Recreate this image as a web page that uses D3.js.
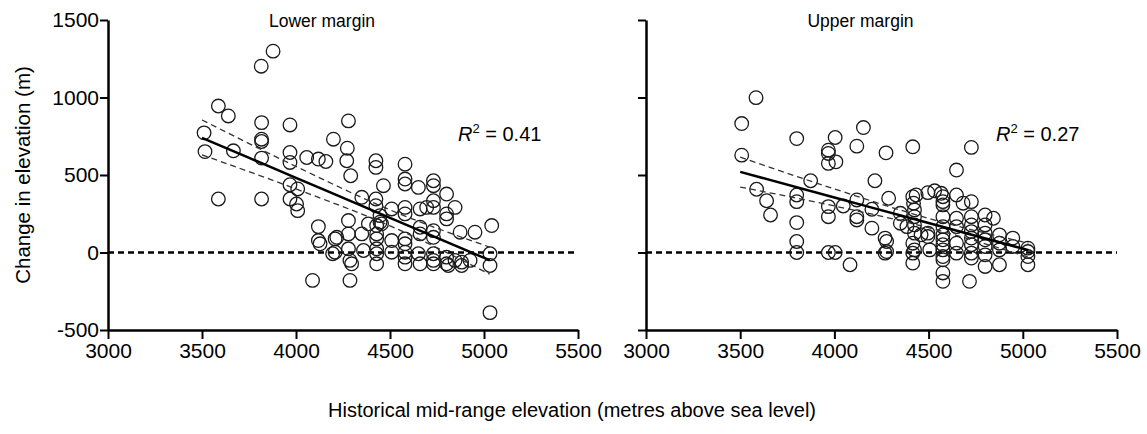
<!DOCTYPE html>
<html>
<head>
<meta charset="utf-8">
<script src="https://cdn.jsdelivr.net/npm/d3@7"></script>
<style>
  body { margin: 0; background: #fff; }
  svg { font-family: "Liberation Sans", Arial, sans-serif; }
  .axis path, .axis line { stroke: #000; }
  .axis text { font-size: 21px; fill: #000; }
</style>
</head>
<body>
<svg id="viz"></svg>
<script>
var width = 1147;
var height = 434;

// lower margin: [historical elevation, change]
var lowerPoints = [
  [3511,772],[3516,651],[3587,945],[3640,881],[3587,345],[3667,656],
  [3815,1202],[3878,1299],[3817,838],[3817,731],[3817,716],[3817,609],[3817,345],
  [3968,823],[3968,645],[3968,581],[3968,437],[4009,410],[3968,345],[4003,313],[4009,270],
  [4057,613],[4119,603],[4159,587],[4199,731],
  [4119,167],[4119,77],[4128,56],[4208,88],[4195,-8],[4088,-180],
  [4279,849],[4273,673],[4270,592],[4291,495],[4279,206],[4217,98],[4279,120],[4279,24],[4208,2],[4296,-73],[4287,-180],[4287,-51],
  [4350,356],[4350,120],[4359,13],[4385,185],
  [4425,592],[4425,549],[4425,345],[4425,302],[4447,238],[4447,195],[4429,174],[4429,120],[4429,88],[4429,24],[4429,-8],[4429,-73],[4455,185],[4465,431],
  [4509,281],[4509,77],[4509,2],
  [4580,570],[4580,474],[4580,442],[4580,291],[4580,249],[4580,88],[4580,56],[4580,2],[4580,-30],[4580,-73],
  [4651,420],[4660,281],[4695,291],[4660,163],[4660,120],[4651,-8],[4660,-73],
  [4731,463],[4731,431],[4731,334],[4731,291],[4731,141],[4731,98],[4731,-8],[4731,-51],[4731,-73],
  [4801,377],[4801,249],[4801,217],[4846,291],[4801,-30],[4801,-73],[4810,-84],[4846,-51],[4881,-62],[4881,-84],
  [4873,131],[4952,131],[4926,-51],
  [5041,174],[5032,-8],[5032,-84],[5032,-388]
];

// upper margin
var upperPoints = [
  [3508,832],[3584,999],[3508,628],[3587,408],[3640,334],[3661,242],
  [3800,735],[3800,371],[3800,328],[3800,193],[3800,71],[3800,0],
  [3874,463],
  [3968,660],[3968,639],[3968,575],[4008,585],[4004,742],[3968,296],[3968,231],[4047,300],[3968,0],[4004,0],
  [4083,-79],
  [4119,686],[4154,806],[4119,339],[4119,231],[4119,210],
  [4199,279],[4199,157],[4215,463],
  [4274,643],[4288,350],[4269,93],[4277,71],[4269,-4],[4277,6],
  [4350,253],[4350,189],[4385,167],
  [4416,682],[4416,360],[4434,371],[4420,318],[4425,275],[4425,231],[4425,178],[4425,125],[4416,60],[4425,17],[4416,-4],[4416,-68],
  [4460,114],[4496,125],[4496,103],[4506,17],[4496,386],[4532,398],
  [4567,382],[4576,360],[4576,328],[4576,307],[4576,231],[4576,167],[4576,114],[4576,82],[4576,50],[4576,17],[4576,-26],[4576,-47],[4576,-132],[4576,-186],
  [4648,532],[4648,371],[4648,221],[4648,167],[4648,60],[4648,-4],
  [4683,318],[4727,678],[4727,328],[4727,231],[4727,178],[4727,135],[4727,93],[4727,50],[4727,-4],[4727,-36],[4717,-186],
  [4800,242],[4844,221],[4800,178],[4800,125],[4800,82],[4800,39],[4800,-15],[4800,-90],
  [4876,114],[4876,60],[4876,17],[4876,-79],
  [4947,93],[4947,39],
  [5027,28],[5027,6],[5027,-26],[5027,-79]
];

// fitted lines and 95% bands
var bandX = [3500, 4000, 4500, 5030];
var lowerFit = [740, 482, 224, -50];
var lowerBandHi = [855, 555, 275, 35];
var lowerBandLo = [630, 410, 172, -140];
var upperFit = [520, 355, 190, 15];
var upperBandHi = [615, 410, 220, 60];
var upperBandLo = [422, 300, 160, -30];

var xTicks = [3000, 3500, 4000, 4500, 5000, 5500];
var yTicks = [-500, 0, 500, 1000, 1500];

var panels = [
  {title: "Lower margin", r2: "0.41", pts: lowerPoints, fit: lowerFit, hi: lowerBandHi, lo: lowerBandLo, x0: 108, x1: 578, labels: true},
  {title: "Upper margin", r2: "0.27", pts: upperPoints, fit: upperFit, hi: upperBandHi, lo: upperBandLo, x0: 646, x1: 1117, labels: false}
];

var svg = d3.select("#viz")
    .attr("width", width)
    .attr("height", height);

var y = d3.scaleLinear().domain([-500, 1500]).range([330, 20]);
var plain = function (d) { return String(d); };

panels.forEach(function (p) {
    var x = d3.scaleLinear().domain([3000, 5500]).range([p.x0, p.x1]);
    var g = svg.append("g");

    // zero line
    g.append("line")
        .attr("x1", x(3000)).attr("x2", x(5500))
        .attr("y1", y(0)).attr("y2", y(0))
        .attr("stroke", "#000")
        .attr("stroke-width", 2.5)
        .attr("stroke-dasharray", "6,4");

    // points
    g.selectAll("circle")
        .data(p.pts)
        .enter().append("circle")
        .attr("cx", function (d) { return x(d[0]); })
        .attr("cy", function (d) { return y(d[1]); })
        .attr("r", 6.8)
        .attr("fill", "none")
        .attr("stroke", "#1a1a1a")
        .attr("stroke-width", 1.3);

    var line = d3.line()
        .x(function (d, i) { return x(bandX[i]); })
        .y(function (d) { return y(d); })
        .curve(d3.curveMonotoneX);

    g.append("path").attr("d", line(p.hi))
        .attr("fill", "none").attr("stroke", "#333")
        .attr("stroke-width", 1.3).attr("stroke-dasharray", "6,4");
    g.append("path").attr("d", line(p.lo))
        .attr("fill", "none").attr("stroke", "#333")
        .attr("stroke-width", 1.3).attr("stroke-dasharray", "6,4");
    g.append("path").attr("d", line(p.fit))
        .attr("fill", "none").attr("stroke", "#000")
        .attr("stroke-width", 2.5);

    // axes
    var yAxis = d3.axisLeft(y).tickValues(yTicks).tickSize(8).tickSizeOuter(0).tickPadding(1)
        .tickFormat(p.labels ? plain : "");
    g.append("g")
        .attr("class", "axis")
        .attr("transform", "translate(" + p.x0 + ",0)")
        .call(yAxis);

    g.append("g")
        .attr("class", "axis")
        .attr("transform", "translate(0," + y(-500) + ")")
        .call(d3.axisBottom(x).tickValues(xTicks).tickSize(9).tickSizeOuter(0).tickPadding(4).tickFormat(plain));

    g.selectAll(".axis path").attr("stroke-width", 2.5);
    g.selectAll(".axis line").attr("stroke-width", 2);

    // title
    g.append("text")
        .attr("x", (p.x0 + p.x1) / 2 - 21)
        .attr("y", 27)
        .attr("text-anchor", "middle")
        .style("font-size", "17.5px")
        .text(p.title);

    // R squared
    var r = g.append("text")
        .attr("x", p.x0 + 350)
        .attr("y", 141)
        .style("font-size", "20px");
    r.append("tspan").style("font-style", "italic").text("R");
    r.append("tspan").attr("dy", -8).style("font-size", "13px").text("2");
    r.append("tspan").attr("dy", 8).text(" = " + p.r2);
});

svg.append("text")
    .attr("transform", "translate(30,175) rotate(-90)")
    .attr("text-anchor", "middle")
    .style("font-size", "20.5px")
    .text("Change in elevation (m)");

svg.append("text")
    .attr("x", 572)
    .attr("y", 417)
    .attr("text-anchor", "middle")
    .style("font-size", "20px")
    .text("Historical mid-range elevation (metres above sea level)");
</script>
</body>
</html>
